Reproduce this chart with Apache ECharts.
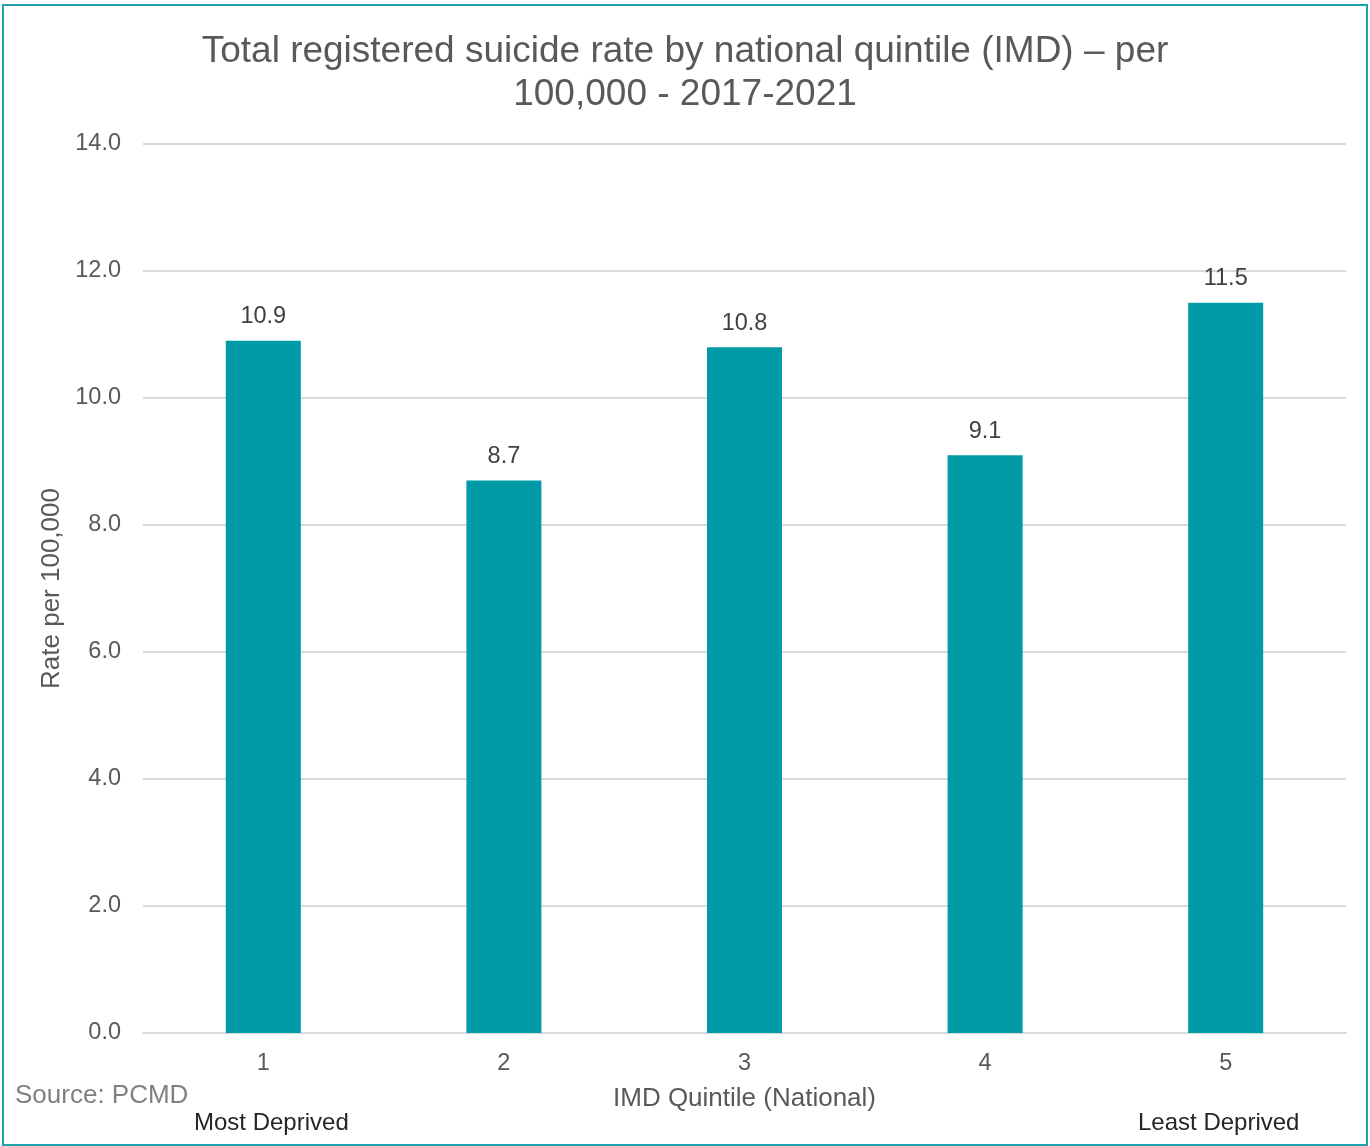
<!DOCTYPE html>
<html>
<head>
<meta charset="utf-8">
<style>
  html, body { margin: 0; padding: 0; background: #ffffff; }
  #chart { width: 1370px; height: 1146px; }
</style>
<script src="https://cdn.jsdelivr.net/npm/echarts@6/dist/echarts.min.js"></script>
</head>
<body>
<div id="chart"></div>
<script>
// Suicide rate per 100,000 by national IMD quintile, 2017-2021
const quintiles = ['1', '2', '3', '4', '5'];
const rates = [10.9, 8.7, 10.8, 9.1, 11.5];
const yTicks = { min: 0, max: 14, interval: 2 };

const FONT = '"Liberation Sans", Arial, sans-serif';
const chart = echarts.init(document.getElementById('chart'), null, { renderer: 'canvas' });

chart.setOption({
  backgroundColor: '#ffffff',
  animation: false,
  title: {
    text: 'Total registered suicide rate by national quintile (IMD) – per\n100,000 - 2017-2021',
    left: 'center',
    top: 25,
    textStyle: {
      fontFamily: FONT,
      fontSize: 37,
      fontWeight: 'normal',
      color: '#595959',
      lineHeight: 43
    }
  },
  grid: { left: 143, right: 24, top: 144, bottom: 113 },
  xAxis: {
    type: 'category',
    data: quintiles,
    name: 'IMD Quintile (National)',
    nameLocation: 'middle',
    nameGap: 53,
    nameTextStyle: { fontFamily: FONT, fontSize: 26, color: '#595959' },
    axisLine: { show: true, lineStyle: { color: '#d9d9d9', width: 2 } },
    axisTick: { show: false },
    axisLabel: { fontFamily: FONT, fontSize: 23.5, color: '#595959', margin: 19 }
  },
  yAxis: {
    type: 'value',
    min: yTicks.min,
    max: yTicks.max,
    interval: yTicks.interval,
    name: 'Rate per 100,000',
    nameLocation: 'middle',
    nameGap: 78,
    nameTextStyle: { fontFamily: FONT, fontSize: 26, color: '#595959' },
    axisLine: { show: false },
    axisTick: { show: false },
    splitLine: { lineStyle: { color: '#d9d9d9', width: 2 } },
    axisLabel: {
      fontFamily: FONT, fontSize: 23.5, color: '#595959', margin: 22,
      formatter: v => v.toFixed(1)
    }
  },
  series: [{
    type: 'bar',
    data: rates,
    barWidth: 75,
    itemStyle: { color: '#009ba6' },
    label: {
      show: true,
      position: 'top',
      distance: 12,
      fontFamily: FONT,
      fontSize: 23.5,
      color: '#404040',
      formatter: p => p.value.toFixed(1)
    }
  }],
  graphic: [
    {
      type: 'rect',
      shape: { x: 3, y: 5, width: 1364, height: 1140 },
      style: { fill: 'none', stroke: '#1fa3ad', lineWidth: 2 },
      silent: true
    },
    {
      type: 'text',
      left: 15, top: 1083,
      style: { text: 'Source: PCMD', font: '26px ' + FONT, fill: '#808080' }
    },
    {
      type: 'text',
      left: 194, top: 1111,
      style: { text: 'Most Deprived', font: '24px ' + FONT, fill: '#262626' }
    },
    {
      type: 'text',
      left: 1138, top: 1111,
      style: { text: 'Least Deprived', font: '24px ' + FONT, fill: '#262626' }
    }
  ]
});
</script>
</body>
</html>
